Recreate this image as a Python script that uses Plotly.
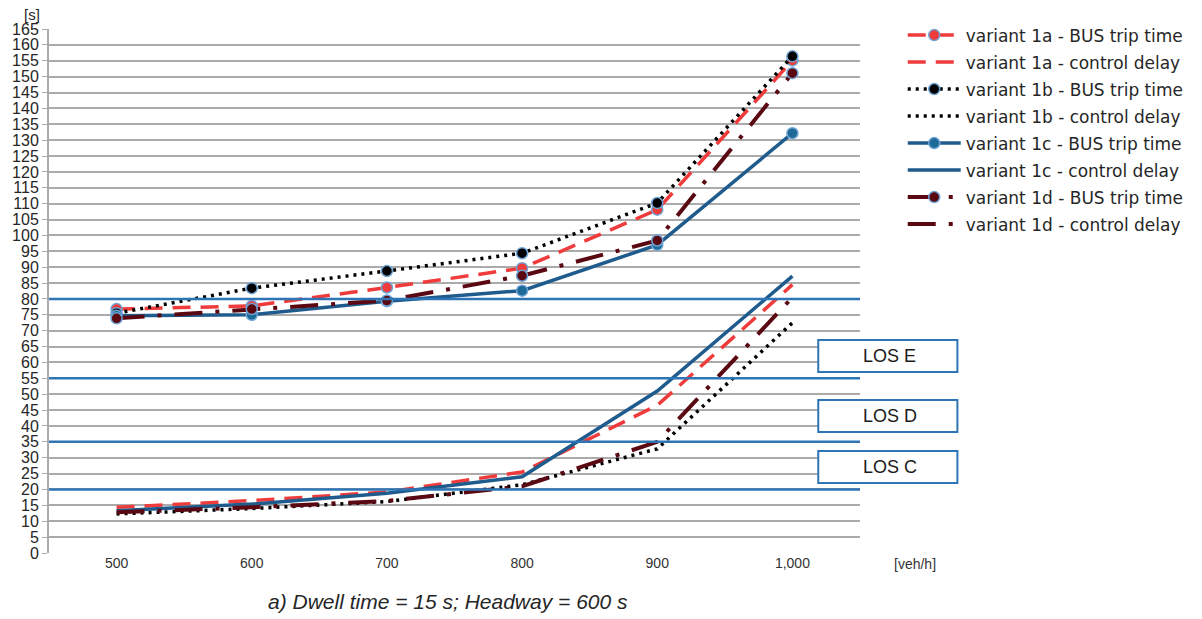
import plotly.graph_objects as go

# ---------------- data ----------------
flows = ["500", "600", "700", "800", "900", "1,000"]

bus_1a = [76.8, 77.8, 83.6, 89.7, 108.1, 155.1]
ctrl_1a = [14.4, 16.5, 19.2, 25.5, 46.5, 84.5]
bus_1b = [75.5, 83.4, 88.8, 94.4, 110.2, 156.4]
ctrl_1b = [12.3, 14.0, 16.2, 21.5, 32.8, 72.5]
bus_1c = [74.7, 75.0, 79.3, 82.6, 97.0, 132.2]
ctrl_1c = [13.3, 15.4, 18.8, 24.0, 51.0, 87.2]
bus_1d = [73.9, 76.8, 79.5, 87.3, 98.4, 151.1]
ctrl_1d = [12.8, 14.4, 16.4, 21.0, 35.0, 80.5]

los_levels = [80, 55, 35, 20]
los_labels = ["LOS E", "LOS D", "LOS C"]

# ---------------- styles ----------------
W, H = 1202, 619
L, R, T, B = 44, 342, 29, 66
PW = W - L - R
PH = H - T - B

def px_x(x):
    return (x - L) / PW

def px_y(y):
    return (H - B - y) / PH

RED = "#ef3b3b"
BLACK = "#000000"
BLUE = "#1f5b8c"
BLUE_M = "#1c6a95"
MAROON = "#5a0912"
OUTLINE = "#6ea4d6"
LOSBLUE = "#2e75b6"

series = [
    ("variant 1a - BUS trip time", bus_1a, RED, RED, "18px,10px", 3.5, True),
    ("variant 1a - control delay", ctrl_1a, RED, RED, "18px,10px", 3.5, False),
    ("variant 1b - BUS trip time", bus_1b, BLACK, BLACK, "3px,5px", 3.5, True),
    ("variant 1b - control delay", ctrl_1b, BLACK, BLACK, "3px,5px", 3.5, False),
    ("variant 1c - BUS trip time", bus_1c, BLUE, BLUE_M, "solid", 3.5, True),
    ("variant 1c - control delay", ctrl_1c, BLUE, BLUE_M, "solid", 3.5, False),
    ("variant 1d - BUS trip time", bus_1d, MAROON, MAROON, "28px,13px,4px,13px", 4, True),
    ("variant 1d - control delay", ctrl_1d, MAROON, MAROON, "28px,13px,4px,13px", 4, False),
]

fig = go.Figure()

# LOS threshold lines (drawn first: above gridlines, below data)
for v in los_levels:
    fig.add_trace(go.Scatter(
        x=[-0.5, 5.5], y=[v, v], mode="lines", showlegend=False, hoverinfo="skip",
        line=dict(color=LOSBLUE, width=2.5), xaxis="x2", yaxis="y",
    ))

for i, (name, vals, lc, mc, dash, lw, mk) in enumerate(series):
    fig.add_trace(go.Scatter(
        x=flows, y=vals, name=name,
        mode="lines+markers" if mk else "lines",
        line=dict(color=lc, width=lw, dash=dash),
        marker=dict(size=11, color=mc, line=dict(color=OUTLINE, width=1.5)),
        legendgroup="g%d" % i,
    ))

shapes = []
annotations = []
box_px = [(340, 372), (400, 432), (451, 483)]
for lab, (ya, yb) in zip(los_labels, box_px):
    shapes.append(dict(type="rect", xref="paper", yref="paper",
                       x0=px_x(818), x1=px_x(958), y0=px_y(yb), y1=px_y(ya),
                       line=dict(color=LOSBLUE, width=2), fillcolor="white", layer="above"))
    annotations.append(dict(text=lab, xref="paper", yref="paper", x=px_x(861),
                            y=px_y((ya + yb) / 2), xanchor="left", yanchor="middle",
                            showarrow=False,
                            font=dict(family="Liberation Sans, Arial, sans-serif", size=18, color="#1a1a1a")))

annotations.append(dict(text="[s]", xref="paper", yref="paper", x=px_x(27), y=px_y(14),
                        xanchor="center", yanchor="middle", showarrow=False,
                        font=dict(family="Liberation Sans, Arial, sans-serif", size=15, color="#262626")))
annotations.append(dict(text="[veh/h]", xref="paper", yref="paper", x=px_x(915), y=px_y(564),
                        xanchor="center", yanchor="middle", showarrow=False,
                        font=dict(family="Liberation Sans, Arial, sans-serif", size=14, color="#333333")))
annotations.append(dict(text="<i>a) Dwell time = 15 s; Headway = 600 s</i>", xref="paper", yref="paper",
                        x=px_x(445), y=px_y(601), xanchor="center", yanchor="middle", showarrow=False,
                        font=dict(family="Liberation Sans, Arial, sans-serif", size=21, color="#262626")))

tickfont_x = dict(family="Liberation Sans, Arial, sans-serif", size=14, color="#333333")

fig.update_layout(
    width=W, height=H,
    margin=dict(l=L, r=R, t=T, b=B, pad=0),
    paper_bgcolor="white", plot_bgcolor="white",
    showlegend=True,
    legend=dict(x=px_x(903), y=px_y(17.5), xanchor="left", yanchor="top",
                font=dict(family="DejaVu Sans, sans-serif", size=17, color="#262626"),
                bgcolor="rgba(0,0,0,0)", tracegroupgap=1.9, itemwidth=53,
                traceorder="grouped"),
    shapes=shapes,
    annotations=annotations,
    xaxis=dict(type="category", range=[-0.5, 5.5], showgrid=False, showline=False,
               zeroline=False, ticks="", tickfont=tickfont_x),
    xaxis2=dict(range=[-0.5, 5.5], overlaying="x", visible=False, showgrid=False),
    yaxis=dict(range=[0, 165], dtick=5, tick0=0, showgrid=True, gridcolor="#ababab", gridwidth=1.5,
               showline=True, linecolor="#ababab", linewidth=2, ticks="outside", ticklen=5,
               tickcolor="#ababab", zeroline=False,
               tickfont=dict(family="Liberation Sans, Arial, sans-serif", size=16, color="#262626")),
)

fig.write_html("out.html")
